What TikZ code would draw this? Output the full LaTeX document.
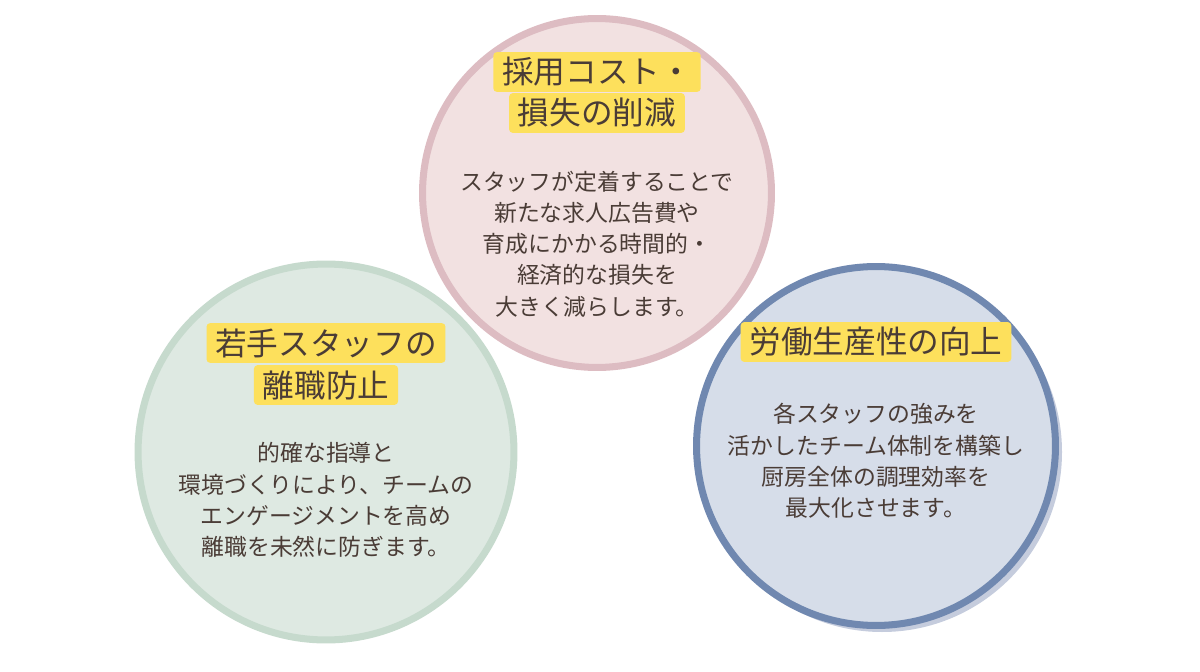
\documentclass[tikz,border=0pt]{standalone}
\usepackage{fontspec}
\setmainfont{Noto Sans CJK JP}
\usetikzlibrary{positioning}
\definecolor{inkbrown}{HTML}{4A3C36}
\definecolor{titleyellow}{HTML}{FDE05C}
\definecolor{pinkfill}{HTML}{F2E1E1}
\definecolor{pinkline}{HTML}{DDBCC2}
\definecolor{greenfill}{HTML}{DEE9E2}
\definecolor{greenline}{HTML}{C6DACD}
\definecolor{bluefill}{HTML}{D6DDE9}
\definecolor{blueline}{HTML}{7088B0}
\definecolor{blueshadow}{HTML}{C5CCDD}
\tikzset{
  bubble/.style={circle, line width=4pt, inner sep=0pt},
  heading/.style={fill=titleyellow, text=inkbrown, font=\fontsize{18}{21}\selectfont, inner xsep=5pt, inner ysep=3pt, rounded corners=2pt},
  body/.style={text=inkbrown, align=center, font=\fontsize{13}{17.8}\selectfont}
}
\begin{document}
\begin{tikzpicture}[x=0.02cm, y=-0.02cm]
\useasboundingbox (0,0) rectangle (1200,672);
% Kreise
\node[bubble, minimum size=6.98cm, draw=pinkline, fill=pinkfill] (kosten) at (597,193) {};
\node[bubble, minimum size=7.52cm, draw=greenline, fill=greenfill] (fluktuation) at (326,452) {};
\fill[blueshadow] (882,452) circle (180);
\node[bubble, minimum size=7.18cm, draw=blueline, fill=bluefill] (produktiv) at (876,446) {};

% Titel oben
\node[heading] (kostenA) at (597,72) {採用コスト・};
\node[heading] (kostenB) at (597,113) {損失の削減};
\node[body] (kostenText) at (597,244) {スタッフが定着することで\\新たな求人広告費や\\育成にかかる時間的・\\経済的な損失を\\大きく減らします。};

% Titel links
\node[heading] (fluktA) at (326,343) {若手スタッフの};
\node[heading] (fluktB) at (326,385) {離職防止};
\node[body] (fluktText) at (326,500) {的確な指導と\\環境づくりにより、チームの\\エンゲージメントを高め\\離職を未然に防ぎます。};

% Titel rechts
\node[heading] (prodA) at (876,342) {労働生産性の向上};
\node[body] (prodText) at (876,461) {各スタッフの強みを\\活かしたチーム体制を構築し\\厨房全体の調理効率を\\最大化させます。};
\end{tikzpicture}
\end{document}
